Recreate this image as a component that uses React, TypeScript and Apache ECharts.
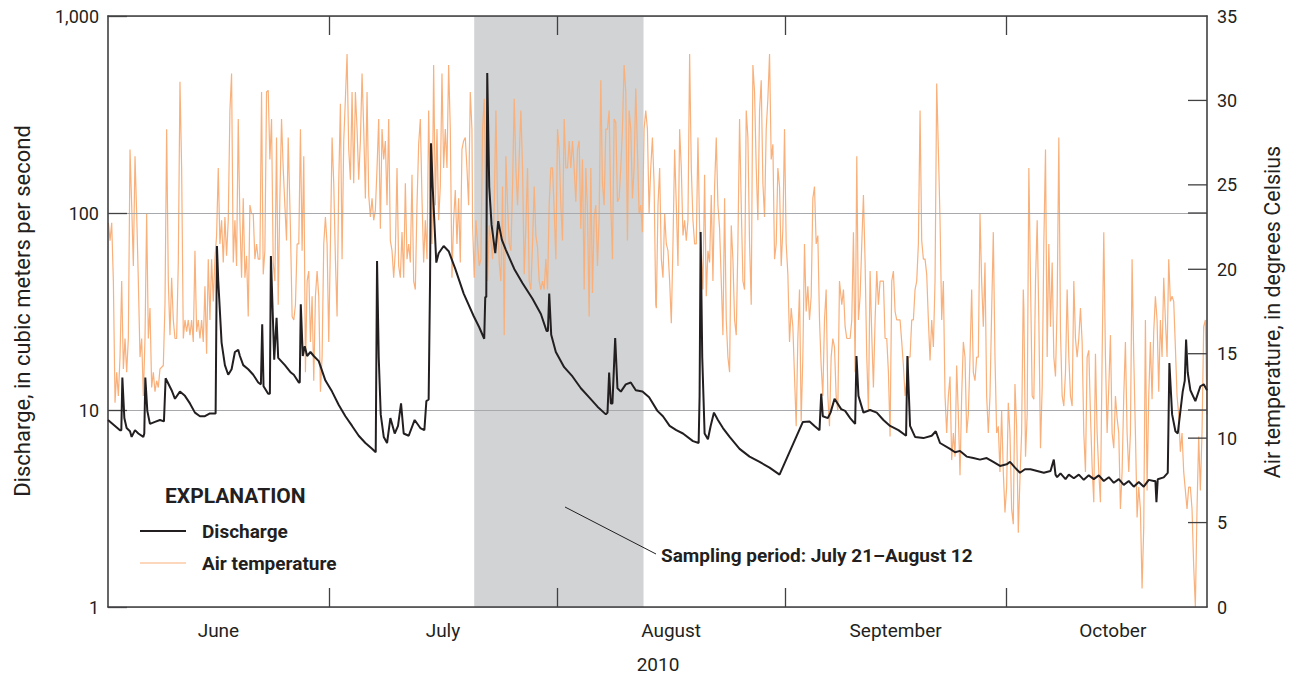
import React, { useEffect, useRef } from "react";
import * as echarts from "echarts";

// ---------- axis labels ----------
const monthLabels = ["June", "July", "August", "September", "October"];
const monthLabelDays = [15, 45.5, 76.5, 107, 136.5]; // days after June 1, 2010
const monthStartDays = [30, 61, 92, 122]; // July 1, Aug 1, Sept 1, Oct 1
const yearLabel = "2010";
const axisMaxDay = 149.3;
const samplingPeriod = [49.75, 72.75]; // July 21 - August 12
const dischargeMirrorTicks = [10, 100];
const temperatureTicks = [5, 10, 15, 20, 25, 30];

// ---------- discharge (m3/s), days after June 1 ----------
const dischargeDays = [
  0.0, 1.63, 1.81, 1.95, 2.22, 2.53, 2.99, 3.21, 3.67, 4.12, 4.8, 4.93, 5.07, 5.34, 5.7, 6.38, 7.06, 7.6, 7.83,
  8.64, 9.1, 9.77, 10.45, 11.13, 11.81, 12.49, 13.17, 13.85, 14.62, 14.8, 14.98, 15.43, 15.88, 16.33, 16.79,
  17.24, 17.69, 17.92, 18.37, 19.05, 19.73, 20.41, 20.77, 20.95, 21.13, 21.76, 21.99, 22.13, 22.58, 22.9, 23.12,
  24.03, 24.84, 25.24, 25.92, 26.05, 26.19, 26.46, 26.73, 27.05, 27.5, 27.95, 28.63, 29.54, 30.44, 31.35, 32.25,
  33.16, 34.06, 34.97, 35.87, 36.37, 36.55, 36.78, 37.05, 37.46, 37.91, 38.36, 38.95, 39.4, 39.81, 40.17, 40.85,
  41.66, 42.43, 42.98, 43.25, 43.56, 43.75, 43.88, 44.11, 44.6, 44.92, 45.6, 46.28, 47.18, 48.32, 49.67, 50.43,
  51.11, 51.25, 51.39, 51.52, 51.79, 52.11, 52.61, 53.01, 53.51, 54.05, 55.19, 56.32, 57.67, 58.81, 59.58,
  59.76, 59.94, 60.21, 60.84, 61.97, 63.1, 64.24, 65.37, 66.5, 67.63, 67.86, 68.08, 68.31, 68.53, 68.9, 69.21,
  69.67, 70.34, 71.02, 71.7, 72.61, 73.51, 74.64, 75.39, 76.3, 77.2, 78.11, 79.47, 80.24, 80.37, 80.51, 80.73,
  81.05, 81.5, 81.87, 82.32, 82.86, 83.54, 84.45, 85.8, 87.16, 88.52, 89.87, 91.23, 94.4, 95.3, 95.98, 96.66,
  96.89, 97.11, 97.79, 98.16, 98.7, 99.6, 100.14, 100.82, 101.5, 101.68, 101.95, 102.63, 103.53, 104.44,
  105.34, 106.25, 107.38, 108.42, 108.6, 108.96, 109.64, 110.77, 111.9, 112.45, 113.03, 114.39, 115.07,
  115.75, 116.65, 117.56, 118.46, 119.37, 120.27, 121.18, 122.08, 122.54, 123.22, 123.89, 124.57, 125.32,
  126.23, 127.13, 128.04, 128.49, 128.72, 128.94, 129.4, 130.08, 130.53, 131.21, 131.89, 132.56, 133.24,
  133.92, 134.6, 135.28, 135.96, 136.64, 137.32, 137.99, 138.67, 139.35, 140.03, 140.71, 141.39, 142.07,
  142.29, 142.43, 142.61, 143.42, 143.97, 144.19, 144.56, 145.01, 145.33, 145.69, 146.0, 146.28, 146.46,
  146.68, 147.04, 147.72, 148.4, 148.86, 149.3,
];
const dischargeValues = [
  8.9, 7.9, 7.9, 14.6, 9.1, 8.1, 7.8, 7.3, 7.9, 7.6, 7.3, 7.6, 14.6, 9.9, 8.5, 8.7, 8.9, 8.75, 14.5,
  12.6, 11.4, 12.4, 11.8, 10.8, 9.7, 9.3, 9.3, 9.6, 9.6, 68, 45, 22, 16.9, 15.1, 16.1,
  19.7, 20.2, 18.8, 16.9, 16.1, 15.1, 13.8, 13.5, 27.2, 13.2, 12.1, 12.1, 60.5, 18.0, 29.4, 18.4,
  16.9, 15.5, 15.1, 13.8, 13.8, 34.4, 18.8, 21.1, 18.8, 19.7, 18.8, 17.7, 14.1, 12.4, 10.6, 9.3,
  8.3, 7.4, 6.8, 6.35, 6.1, 57, 18.4, 9.5, 7.3, 6.8, 9.1, 7.6, 8.3, 10.8, 7.6, 7.4,
  8.9, 8.1, 7.9, 11.1, 11.3, 45, 226, 136, 56, 62.5, 68, 64, 52, 39, 30, 26.3,
  23.0, 37.5, 37.5, 514, 136, 87, 62.5, 91, 73, 65, 52, 44, 36.7, 30.7, 25.2,
  25.2, 39, 24.1, 19.7, 16.5, 14.8, 12.9, 11.6, 10.4, 9.5, 9.7, 15.5, 10.8, 10.8, 23.2, 12.9,
  12.4, 13.5, 13.8, 12.6, 12.4, 11.6, 9.9, 9.3, 8.3, 7.9, 7.6, 6.95, 6.8, 11.8, 80, 18.4,
  7.6, 7.1, 8.3, 9.7, 8.9, 8.1, 7.3, 6.35, 5.8, 5.45, 5.1, 4.7, 8.7, 8.75, 8.3, 7.9,
  12.1, 9.3, 9.1, 9.7, 11.4, 10.1, 9.9, 9.1, 8.5, 18.8, 11.8, 9.7, 10.0, 9.7,
  8.9, 8.3, 7.9, 7.4, 18.8, 8.3, 7.3, 7.2, 7.4, 7.8, 6.8, 6.35, 6.1,
  6.2, 5.8, 5.7, 5.6, 5.7, 5.45, 5.2, 5.3, 5.45, 5.1, 4.8, 5.0, 5.0,
  4.9, 4.8, 4.9, 5.6, 4.7, 4.56, 4.77, 4.46, 4.7, 4.5, 4.7, 4.42, 4.66,
  4.46, 4.66, 4.36, 4.56, 4.27, 4.46, 4.17, 4.36, 4.08, 4.31, 4.08, 4.42, 4.36,
  4.36, 3.4, 4.45, 4.55, 4.8, 17.3, 9.5, 7.8, 7.6, 9.9, 12.4, 14.1, 22.8,
  15.5, 12.6, 11.1, 13.2, 13.5, 12.6,
];

// ---------- air temperature (deg C), regular samples ----------
const tempSampleDays = 0.2262;
const tempSegmentStarts = [0.05, 24.56, 49.53, 74.49, 99.46, 124.42];
const tempJune = [
  22.75, 21.7, 22.75, 19.3, 12.1, 13.9, 12.5, 14.8, 19.3, 14.1, 15.9, 13.9, 15.9, 27.1, 23.8, 20.2, 26.7, 23.3,
  19.3, 14.8, 15.9, 12.5, 15.9, 23.3, 15.9, 17.7, 13.0, 13.9, 12.75, 13.4, 13.0, 14.1, 14.2, 14.3, 17.9, 28.3,
  19.3, 16.1, 19.5, 17.0, 15.9, 15.9, 20.4, 31.1, 26.0, 15.9, 17.0, 16.3, 17.0, 16.1, 17.0, 15.7, 21.1, 16.3,
  17.0, 15.9, 17.0, 15.7, 19.0, 15.0, 20.6, 17.0, 20.6, 18.1, 20.6, 22.0, 26.0, 21.5, 22.9, 20.4, 23.1, 20.8,
  22.9, 29.4, 31.6, 20.4, 22.9, 20.2, 28.9, 22.9, 19.5, 24.2, 19.5, 20.8, 17.2, 23.8, 23.3, 23.3, 20.6, 21.5,
  20.6, 20.6, 30.5, 19.7, 21.1, 30.5, 30.6, 26.5, 28.9, 20.4, 19.3, 27.8, 17.9, 24.2, 28.9, 26.0, 23.8, 21.7,
  27.8,
];
const tempJuly1 = [
  27.8, 22.4, 17.2, 17.0, 17.9, 21.5, 21.5, 28.3, 21.1, 26.7,
  13.9, 19.3, 19.9, 15.7, 18.4, 13.4, 18.4, 19.9, 18.4, 12.75,
  14.8, 21.5, 23.1, 21.5, 15.7, 21.5, 27.8, 25.1, 20.6, 17.2,
  25.1, 29.8, 20.6, 27.6, 30.1, 32.75, 27.1, 25.3, 30.5, 25.1,
  30.5, 28.3, 25.3, 27.6, 31.6, 28.3, 24.2, 30.5, 24.4, 23.1,
  24.2, 22.9, 23.5, 26.0, 28.9, 22.4, 28.3, 26.5, 27.6, 23.8,
  28.9, 21.7, 21.1, 19.5, 21.1, 26.0, 20.2, 19.5, 22.2, 19.5,
  25.1, 20.6, 21.5, 20.4, 25.6, 19.3, 18.8, 23.8, 27.4, 28.9,
  24.2, 20.4, 22.9, 20.6, 29.4, 23.8, 21.5, 32.1, 23.8, 28.3,
  22.9, 24.9, 31.6, 26.0, 28.3, 26.0, 32.1, 28.3, 19.5, 22.9,
  24.7, 21.5, 24.2, 20.4, 27.1, 27.6, 27.8, 26.0, 23.8, 30.5,
  28.3,
];
const tempJuly2 = [
  22.6, 19.5, 22.9, 21.5, 20.2, 20.6, 28.3, 30.1, 23.8, 19.3,
  22.6, 21.7, 20.6, 23.8, 29.4, 23.8, 20.4, 19.3, 24.9, 16.1,
  26.7, 23.8, 21.5, 21.1, 24.9, 30.1, 26.0, 23.8, 26.7, 29.4,
  26.0, 19.7, 22.6, 26.0, 19.3, 18.8, 21.5, 24.9, 22.0, 21.3,
  19.3, 18.8, 19.3, 18.8, 20.6, 18.8, 23.8, 26.0, 26.0, 23.5,
  20.6, 28.3, 27.1, 23.8, 21.7, 28.9, 26.0, 26.0, 27.6, 26.0,
  27.6, 26.0, 24.0, 27.1, 27.6, 22.4, 26.5, 18.8, 26.0, 23.5,
  17.2, 26.0, 18.6, 23.1, 23.8, 20.2, 23.1, 31.2, 25.1, 23.8,
  28.3, 28.3, 29.4, 23.8, 20.6, 28.9, 28.7, 24.0, 24.2, 26.0,
  28.3, 32.1, 30.5, 21.7, 29.4, 28.3, 24.2, 26.0, 30.7, 27.1,
  23.3, 23.8, 22.2, 28.3, 29.4, 28.3, 23.3, 26.0, 27.8, 25.1,
  17.9,
];
const tempAugust = [
  17.7, 23.8, 26.0, 20.6, 19.5, 23.3, 21.5, 21.1, 19.3, 16.8,
  21.5, 27.1, 23.8, 20.2, 28.3, 26.0, 22.0, 22.9, 21.7, 22.9,
  32.75, 26.0, 22.9, 21.5, 21.5, 27.8, 22.4, 21.1, 18.8, 25.6,
  18.4, 21.1, 20.4, 24.4, 19.3, 24.9, 27.8, 23.8, 22.4, 19.3,
  16.1, 24.2, 17.0, 14.8, 13.9, 22.6, 20.6, 17.0, 16.1, 21.5,
  28.9, 23.8, 19.3, 18.8, 29.4, 27.8, 21.5, 17.9, 32.1, 30.5,
  26.0, 22.9, 29.4, 31.2, 25.1, 23.1, 28.3, 30.1, 32.75, 26.5,
  27.4, 20.6, 21.5, 26.0, 24.9, 20.2, 22.4, 28.3, 21.5, 19.7,
  15.7, 17.7, 16.6, 13.65, 10.7, 15.9, 18.8, 11.0, 14.8, 21.5,
  17.5, 19.0, 17.0, 18.4, 24.2, 24.9, 21.5, 22.0, 17.0, 14.3,
  12.5, 17.0, 18.8, 12.5, 10.7, 14.8, 15.9, 15.4, 12.5, 11.6,
  19.3,
];
const tempSeptember = [
  19.3, 17.9, 18.8, 16.6, 15.9, 15.9, 15.9, 17.0, 22.2, 13.9,
  26.7, 17.0, 18.4, 21.5, 24.4, 20.4, 14.8, 11.6, 19.9, 16.1,
  13.0, 17.0, 19.9, 17.9, 19.3, 19.3, 19.3, 15.9, 15.9, 13.9,
  10.1, 19.3, 19.9, 17.5, 17.0, 17.0, 17.0, 15.7, 14.3, 12.5,
  13.4, 14.8, 14.8, 17.0, 17.0, 18.8, 19.3, 21.5, 29.4, 21.7,
  20.6, 20.6, 19.7, 17.0, 14.6, 17.0, 15.4, 19.3, 31.0, 27.1,
  22.9, 17.0, 19.3, 12.5, 10.3, 12.5, 13.65, 8.7, 10.3, 8.9,
  14.3, 11.4, 7.8, 12.5, 15.7, 14.8, 10.3, 11.4, 14.8, 18.8,
  13.9, 13.4, 14.8, 14.8, 23.3, 19.3, 16.6, 20.4, 12.5, 10.3,
  12.5, 17.5, 22.2, 14.8, 10.3, 10.7, 8.0, 11.6, 8.0, 5.6,
  7.1, 12.1, 10.3, 5.8, 4.9, 13.2, 10.7, 4.4, 7.6, 10.3,
  18.8,
];
const tempOctober = [
  17.7, 8.9, 11.4, 26.0, 19.3, 12.5, 12.3, 19.3, 22.9, 17.0,
  9.4, 13.0, 21.5, 27.1, 14.8, 21.5, 16.6, 20.4, 14.8, 13.65,
  17.9, 27.8, 16.3, 12.5, 11.9, 13.9, 18.8, 14.8, 12.5, 11.9,
  19.3, 15.9, 14.8, 15.9, 17.7, 15.7, 10.3, 8.0, 14.8, 15.2,
  11.4, 8.3, 6.2, 15.0, 10.3, 8.0, 6.2, 14.8, 22.2, 14.8,
  10.3, 13.0, 16.1, 10.3, 9.4, 12.5, 11.2, 10.3, 5.8, 8.0,
  12.5, 15.7, 10.3, 8.0, 10.3, 20.6, 14.8, 10.3, 5.3, 7.1,
  5.8, 1.1, 4.7, 17.0, 6.9, 12.5, 15.7, 12.3, 16.3, 18.4,
  17.0, 12.75, 17.0, 14.8, 19.5, 17.0, 14.8, 20.6, 18.1, 18.4,
  18.1, 15.4, 12.5, 11.4, 9.2, 10.3, 8.0, 6.9, 5.8, 7.1,
  7.1, 5.8, 2.4, 0.0, 5.8, 10.1, 6.9, 10.3, 16.6, 17.0,
  11.4,
];
const tempSegments = [tempJune, tempJuly1, tempJuly2, tempAugust, tempSeptember, tempOctober];

const FONT = 'Roboto, "Noto Sans", sans-serif';
const INK = "#231f20";
const ORANGE = "#f9b07a";
const AXIS = "#414042";

export default function App() {
  const ref = useRef<HTMLDivElement>(null);

  useEffect(() => {
    document.body.style.margin = "0";
    if (!ref.current) return;
    const chart = echarts.init(ref.current, undefined, { renderer: "svg" });

    const dischargeData = dischargeDays.map((d, i) => [d, dischargeValues[i]]);
    const tempData: number[][] = [];
    tempSegments.forEach((seg, k) => {
      seg.forEach((v, i) => tempData.push([tempSegmentStarts[k] + i * tempSampleDays, v]));
    });

    const tickStyle = { show: true, inside: true, length: 19, lineStyle: { color: AXIS, width: 1.3 } };
    const axisLineStyle = { show: true, onZero: false, lineStyle: { color: AXIS, width: 1.6 } };

    const textEls: any[] = [
      {
        type: "text",
        x: 22,
        y: 311,
        z: 10,
        rotation: Math.PI / 2,
        style: {
          text: "Discharge, in cubic meters per second",
          fontFamily: FONT,
          fontSize: 22,
          fill: INK,
          align: "center",
          verticalAlign: "middle",
        },
      },
      {
        type: "text",
        x: 1272,
        y: 312,
        z: 10,
        rotation: Math.PI / 2,
        style: {
          text: "Air temperature, in degrees Celsius",
          fontFamily: FONT,
          fontSize: 21.5,
          fill: INK,
          align: "center",
          verticalAlign: "middle",
        },
      },
      {
        type: "text",
        x: 658,
        y: 664,
        z: 10,
        style: { text: yearLabel, fontFamily: FONT, fontSize: 19, fill: INK, align: "center", verticalAlign: "middle" },
      },
      {
        type: "text",
        x: 165,
        y: 496,
        z: 10,
        style: { text: "EXPLANATION", fontFamily: FONT, fontWeight: "bold", fontSize: 21, fill: INK, verticalAlign: "middle" },
      },
      { type: "line", z: 10, shape: { x1: 140, y1: 531, x2: 186, y2: 531 }, style: { stroke: INK, lineWidth: 2 } },
      {
        type: "text",
        x: 202,
        y: 531,
        z: 10,
        style: { text: "Discharge", fontFamily: FONT, fontWeight: "bold", fontSize: 19, fill: INK, verticalAlign: "middle" },
      },
      { type: "line", z: 10, shape: { x1: 140, y1: 563, x2: 186, y2: 563 }, style: { stroke: ORANGE, lineWidth: 1.2 } },
      {
        type: "text",
        x: 202,
        y: 563,
        z: 10,
        style: { text: "Air temperature", fontFamily: FONT, fontWeight: "bold", fontSize: 19, fill: INK, verticalAlign: "middle" },
      },
      { type: "line", z: 10, shape: { x1: 565, y1: 507, x2: 656, y2: 554 }, style: { stroke: INK, lineWidth: 1 } },
      {
        type: "text",
        x: 661,
        y: 555,
        z: 10,
        style: {
          text: "Sampling period: July 21\u2013August 12",
          fontFamily: FONT,
          fontWeight: "bold",
          fontSize: 19,
          fill: INK,
          verticalAlign: "middle",
        },
      },
    ];

    chart.setOption({
      animation: false,
      backgroundColor: "#ffffff",
      textStyle: { fontFamily: FONT },
      grid: { left: 108, right: 85, top: 16, bottom: 71, containLabel: false },
      xAxis: [
        {
          type: "value",
          min: 0,
          max: axisMaxDay,
          position: "bottom",
          z: 3,
          axisLine: axisLineStyle,
          axisTick: { ...tickStyle, customValues: monthStartDays },
          axisLabel: {
            show: true,
            customValues: monthLabelDays,
            formatter: (v: number) => {
              const idx = monthLabelDays.findIndex((d) => Math.abs(d - v) < 0.01);
              return idx >= 0 ? monthLabels[idx] : "";
            },
            fontFamily: FONT,
            fontSize: 19,
            color: INK,
            margin: 14,
          },
          splitLine: { show: false },
        },
        {
          type: "value",
          min: 0,
          max: axisMaxDay,
          position: "top",
          z: 3,
          axisLine: axisLineStyle,
          axisTick: { ...tickStyle, customValues: monthStartDays },
          axisLabel: { show: false },
          splitLine: { show: false },
        },
      ],
      yAxis: [
        {
          type: "log",
          logBase: 10,
          min: 1,
          max: 1000,
          interval: 1,
          position: "left",
          z: 3,
          axisLine: axisLineStyle,
          axisTick: tickStyle,
          axisLabel: {
            formatter: (v: number) => Math.round(v).toLocaleString("en-US"),
            fontFamily: FONT,
            fontSize: 18,
            color: INK,
            margin: 9,
          },
          splitLine: { show: true, lineStyle: { color: "#a7a9ac", width: 1.2 } },
        },
        {
          type: "value",
          min: 0,
          max: 35,
          interval: 5,
          position: "right",
          z: 3,
          axisLine: axisLineStyle,
          axisTick: { show: false },
          axisLabel: { fontFamily: FONT, fontSize: 18, color: INK, margin: 10 },
          splitLine: { show: false },
        },
      ],
      series: [
        {
          type: "custom",
          xAxisIndex: 0,
          yAxisIndex: 1,
          z: 1,
          silent: true,
          data: [samplingPeriod],
          renderItem: (_params: any, api: any) => {
            const p0 = api.coord([api.value(0), 35]);
            const p1 = api.coord([api.value(1), 0]);
            return {
              type: "rect",
              shape: { x: p0[0], y: p0[1], width: p1[0] - p0[0], height: p1[1] - p0[1] },
              style: { fill: "#d1d3d4" },
            };
          },
        },
        {
          name: "Air temperature",
          type: "line",
          xAxisIndex: 0,
          yAxisIndex: 1,
          z: 2,
          data: tempData,
          showSymbol: false,
          symbol: "none",
          lineStyle: { color: ORANGE, width: 1.2 },
        },
        {
          name: "Discharge",
          type: "line",
          xAxisIndex: 0,
          yAxisIndex: 0,
          z: 4,
          data: dischargeData,
          showSymbol: false,
          symbol: "none",
          lineStyle: { color: INK, width: 2 },
        },
      ],
      graphic: { z: 10, elements: textEls },
    });

    // right-border ticks (discharge mirror + temperature), placed through the axis scales
    const rightX = chart.convertToPixel({ xAxisIndex: 0 }, axisMaxDay) as number;
    const tickLine = (y: number) => ({
      type: "line",
      z: 10,
      shape: { x1: rightX - 19, y1: y, x2: rightX, y2: y },
      style: { stroke: AXIS, lineWidth: 1.3 },
    });
    const mirrorEls = dischargeMirrorTicks.map((v) => tickLine(chart.convertToPixel({ yAxisIndex: 0 }, v) as number));
    const tempTickEls = temperatureTicks.map((v) => tickLine(chart.convertToPixel({ yAxisIndex: 1 }, v) as number));
    chart.setOption({ graphic: { z: 10, elements: [...textEls, ...mirrorEls, ...tempTickEls] } });

    return () => chart.dispose();
  }, []);

  return <div ref={ref} style={{ width: 1292, height: 678 }} />;
}
